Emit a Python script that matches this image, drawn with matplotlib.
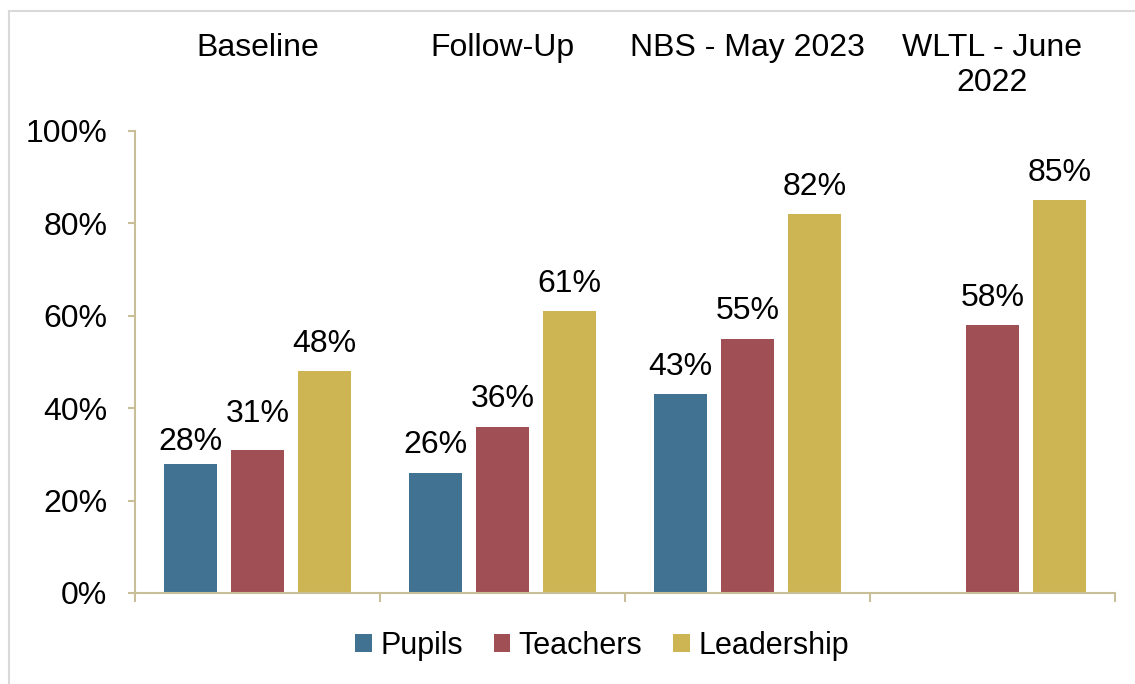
import numpy as np
import matplotlib.pyplot as plt
from matplotlib.lines import Line2D
from matplotlib.transforms import blended_transform_factory
from matplotlib.ticker import PercentFormatter

plt.rcParams['font.family'] = ['Liberation Sans', 'DejaVu Sans']

# survey results (% agreeing)
categories = ['Baseline', 'Follow-Up', 'NBS - May 2023', 'WLTL - June\n2022']
pupils = [28, 26, 43, np.nan]
teachers = [31, 36, 55, 58]
leadership = [48, 61, 82, 85]

series = [('Pupils', pupils, '#417291'),
          ('Teachers', teachers, '#A04F55'),
          ('Leadership', leadership, '#CDB554')]

# small vertical nudges (points) so neighbouring labels don't collide
nudge = {(0, 0): -4, (1, 0): 6}

axis_col = '#C8BF98'
fs = 23

fig = plt.figure(figsize=(11.35, 6.84), dpi=100)
ax = fig.add_axes([135 / 1135, 1 - 593 / 684, 980 / 1135, 462 / 684])

x = np.arange(len(categories))
width = 0.216
step = 0.2735

for i, (name, vals, col) in enumerate(series):
    pos = x + (i - 1) * step
    ax.bar(pos, vals, width, color=col, label=name)
    for j, (p, v) in enumerate(zip(pos, vals)):
        if np.isnan(v):
            continue
        ax.annotate(f'{v:.0f}%', (p, v), xytext=(0, 9 + nudge.get((i, j), 0)),
                    textcoords='offset points', ha='center', va='bottom', fontsize=fs)

ax.set_xlim(-0.5, len(categories) - 0.5)
ax.set_ylim(0, 100)
ax.set_yticks(range(0, 101, 20))
ax.yaxis.set_major_formatter(PercentFormatter(decimals=0))
ax.set_xticks(np.arange(-0.5, len(categories), 1))
ax.set_xticklabels([])

for s in ['top', 'right']:
    ax.spines[s].set_visible(False)
for s in ['left', 'bottom']:
    ax.spines[s].set_color(axis_col)
    ax.spines[s].set_linewidth(1.5)
ax.tick_params(axis='y', length=5, width=1.5, color=axis_col, labelsize=fs, pad=15)
ax.tick_params(axis='x', length=6.5, width=1.5, color=axis_col)

# group names along the top
tr = blended_transform_factory(ax.transData, fig.transFigure)
for xi, lab in zip(x, categories):
    ax.text(xi, 1 - 33 / 684, lab, transform=tr, ha='center', va='top',
            fontsize=fs, linespacing=1.2)

fig.legend(loc='center', bbox_to_anchor=(602 / 1135, 1 - 646 / 684), ncol=3,
           frameon=False, fontsize=22, handlelength=0.55, handleheight=0.55,
           handletextpad=0.27, columnspacing=1.0)

# chart border
fig.add_artist(Line2D([9 / 1135, 9 / 1135], [0, 1 - 11 / 684], color='#D9D9D9', lw=1.5,
                      transform=fig.transFigure))
fig.add_artist(Line2D([9 / 1135, 1], [1 - 11 / 684, 1 - 11 / 684], color='#D9D9D9', lw=1.5,
                      transform=fig.transFigure))

fig.savefig('out.png', dpi=100)
